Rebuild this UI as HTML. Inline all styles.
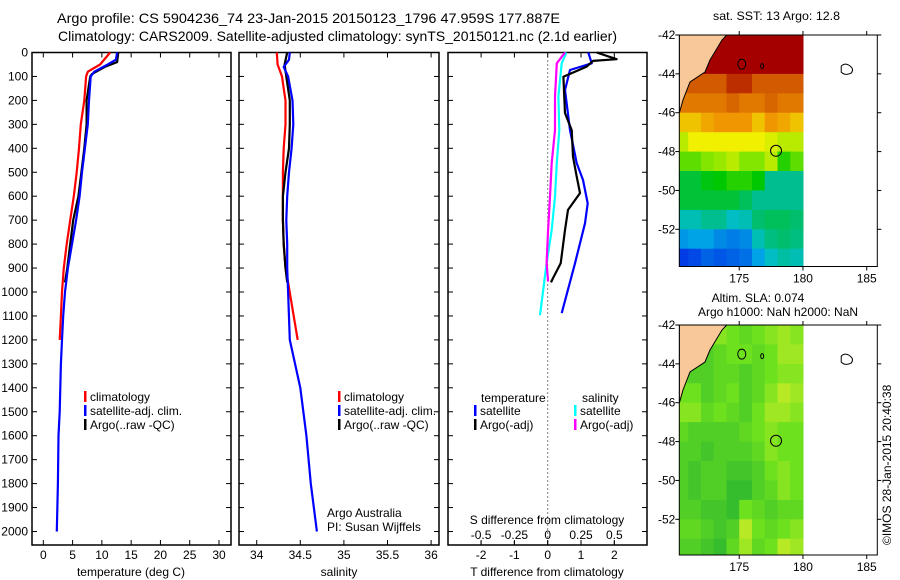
<!DOCTYPE html>
<html><head><meta charset="utf-8">
<style>
html,body{margin:0;padding:0;background:#fff;}
svg{display:block;font-family:"Liberation Sans",sans-serif;}
text{font-size:12px;fill:#000;}
</style></head>
<body>
<svg id="c" width="900" height="580" viewBox="0 0 900 580">
<text x="57" y="23" textLength="503" lengthAdjust="spacingAndGlyphs" style="font-size:14px">Argo profile: CS 5904236_74 23-Jan-2015 20150123_1796 47.959S 177.887E</text>
<text x="58" y="41" textLength="559" lengthAdjust="spacingAndGlyphs" style="font-size:14px">Climatology: CARS2009. Satellite-adjusted climatology: synTS_20150121.nc (2.1d earlier)</text>
<text x="713" y="20" textLength="127" lengthAdjust="spacingAndGlyphs">sat. SST: 13 Argo: 12.8</text>
<text x="758" y="302" text-anchor="middle">Altim. SLA: 0.074</text>
<text x="778" y="316" text-anchor="middle">Argo h1000: NaN h2000: NaN</text>
<text transform="translate(891,545) rotate(-90)">©IMOS 28-Jan-2015 20:40:38</text>
</svg>
<script>
// ---------- data ----------
const tClimDepth=[0,50,80,100,200,300,400,500,600,700,800,900,1000,1100,1200];
const tClimVal=[11.4,9.7,7.6,7.3,7.0,6.4,6.1,5.7,5.2,4.6,4.0,3.5,3.2,3.0,2.8];
const tSatDepth=[0,30,50,80,100,200,300,400,500,600,700,800,900,1000,1100,1200,1300,1400,1500,1600,1800,2000];
const tSatVal=[12.6,12.4,11.0,8.7,8.1,7.8,7.6,7.1,6.6,6.2,5.6,4.9,4.2,3.7,3.4,3.2,3.0,2.9,2.8,2.6,2.5,2.3];
const tArgoDepth=[0,40,60,90,100,200,300,400,500,600,700,800,900,960];
const tArgoVal=[12.8,12.6,10.5,8.3,8.0,7.4,7.4,7.0,6.5,6.0,5.1,4.6,4.1,3.7];
const sClimDepth=[0,50,100,150,200,300,400,500,600,700,800,900,960,1200];
const sClimVal=[34.23,34.24,34.29,34.31,34.33,34.33,34.31,34.30,34.30,34.30,34.31,34.33,34.36,34.47];
const sSatDepth=[0,30,60,100,200,300,400,500,600,700,800,900,1000,1200,1400,1600,1800,2000];
const sSatVal=[34.38,34.37,34.31,34.36,34.41,34.42,34.40,34.37,34.35,34.34,34.35,34.35,34.36,34.38,34.50,34.57,34.62,34.69];
const sArgoDepth=[0,50,100,200,300,400,500,600,700,800,900,960];
const sArgoVal=[34.35,34.32,34.34,34.38,34.38,34.37,34.33,34.30,34.30,34.31,34.33,34.35];
const dTSatDepth=[0,45,73,157,324,462,532,630,713,880,1088];
const dTSatVal=[1.22,1.32,0.67,0.52,0.67,0.87,1.06,1.20,1.12,0.82,0.42];
const dTArgoDepth=[0,28,35,59,101,253,324,435,518,587,657,741,880,942,960];
const dTArgoVal=[1.47,2.07,1.36,1.17,0.47,0.52,0.72,0.76,0.87,0.97,0.61,0.52,0.39,0.16,0.10];
const dSSatDepth=[0,45,184,324,462,602,741,880,1097];
const dSSatVal=[0.14,0.105,0.08,0.087,0.068,0.055,0.03,-0.008,-0.058];
const dSArgoDepth=[0,45,184,324,462,602,741,880,956];
const dSArgoVal=[0.13,0.068,0.055,0.055,0.03,0.017,0.003,-0.008,0.003];
const depthTicks=[0,100,200,300,400,500,600,700,800,900,1000,1100,1200,1300,1400,1500,1600,1700,1800,1900,2000];
const tTicks=[0,5,10,15,20,25,30];
const sTicks=[34,34.5,35,35.5,36];
const sTickLabels=["34","34.5","35","35.5","36"];
const dTTicks=[-2,-1,0,1,2];
const dSTicks=[-0.5,-0.25,0,0.25,0.5];
const dSTickLabels=["-0.5","-0.25","0","0.25","0.5"];
const latTicks=[-42,-44,-46,-48,-50,-52];
const lonTicks=[175,180,185];
const sstRows=[
[15,15,15,15,15,15,15,15,15,15],
[15,15,15,15,15,15,15,15,15,15],
[14,14,14,14,14.5,14.5,14,14,14,14],
[13.5,13.5,13.5,13.5,13.8,13.5,13.5,13.8,13.5,13.5],
[12.5,12.5,12.8,13,13,13,12.5,13,12.8,12.5],
[11.5,12,12,12,12,12,12,11.8,11.5,11.5],
[10.8,10.8,11,11.2,11.5,11,11,11.5,10.5,10.8],
[10,10,10.2,10.3,10.5,10.5,10.3,9.5,9.5,9.5],
[10,10,10,10,10,9.8,9.5,9.5,9.5,9.5],
[9.3,9.3,9.5,9.5,9.2,9.3,9.7,9.8,9.8,9.7],
[8.7,8.8,8.8,8.6,8.5,8.6,9.3,9.6,9.7,9.6],
[8,8.1,8.3,8.2,8.3,8.4,8.8,9.2,9.4,9.3]];
const slaRows=[
[0.5,0.4,0.4,0.6,0.5,0.4,0.5,0.6,0.7,0.6],
[0.5,0.3,0.3,0.4,0.5,0.5,0.4,0.5,0.7,0.7],
[0.4,0.3,0.3,0.4,0.4,0.3,0.4,0.5,0.6,0.6],
[0.5,0.5,0.3,0.4,0.5,0.3,0.4,0.6,0.8,0.7],
[0.6,0.6,0.4,0.5,0.4,0.3,0.5,0.7,0.7,0.6],
[0.4,0.3,0.3,0.3,0.3,0.4,0.5,0.6,0.5,0.5],
[0.3,0.3,0.2,0.3,0.3,0.3,0.4,0.6,0.5,0.5],
[0.3,0.2,0.3,0.3,0.2,0.2,0.3,0.5,0.6,0.5],
[0.3,0.2,0.3,0.3,0.1,0.1,0.3,0.4,0.6,0.5],
[0.3,0.3,0.2,0.2,0.1,0.5,0.4,0.3,0.4,0.4],
[0.4,0.4,0.3,0.2,0.3,0.8,0.5,0.4,0.5,0.6],
[0.3,0.3,0.2,0.1,0.4,0.7,0.4,0.5,0.8,0.7]];
const argoLon=[177.887], argoLat=[-47.959];

// ---------- helpers ----------
const svg=document.getElementById('c');
const NS='http://www.w3.org/2000/svg';
function mk(tag,attrs,parent){const e=document.createElementNS(NS,tag);for(const k in attrs)e.setAttribute(k,attrs[k]);(parent||svg).appendChild(e);return e;}
const top0=52.5, bot=545;
const yD=d=>top0+d*0.2395;
const xT=v=>43.3+v*5.857;
const xS=v=>256.7+(v-34)*87.2;
const xDT=v=>547.7+v*33.3;
const xDS=v=>547.7+v*133.3;
const panels=[{l:32,r:231},{l:239,r:439},{l:448,r:647}];

panels.forEach((p,i)=>{
  const g=mk('g',{});
  
  
  const r=mk('rect',{x:p.l,y:top0,width:p.r-p.l,height:bot-top0,fill:'none',stroke:'#000','stroke-width':1.5},g);
  
  
  depthTicks.forEach(d=>{
    mk('line',{x1:p.l,x2:p.l+5,y1:yD(d),y2:yD(d),stroke:'#000'},g);
    mk('line',{x1:p.r,x2:p.r-5,y1:yD(d),y2:yD(d),stroke:'#000'},g);
  });
});
depthTicks.forEach(d=>{
  const t=mk('text',{x:28,y:yD(d)+4,'text-anchor':'end'});t.textContent=d;
  
  
});
function xticks(vals,labels,fx,ly){
  vals.forEach((v,i)=>{
    const x=fx(v);
    mk('line',{x1:x,x2:x,y1:bot,y2:bot-5,stroke:'#000'});
    mk('line',{x1:x,x2:x,y1:top0,y2:top0+5,stroke:'#000'});
    if(ly){const t=mk('text',{x:x,y:ly,'text-anchor':'middle'});t.textContent=labels[i];
      
      }
  });
}
xticks(tTicks,tTicks.map(String),xT,559);
xticks(sTicks,sTickLabels,xS,559);
xticks(dTTicks,dTTicks.map(String),xDT,559);
dSTicks.forEach((v,i)=>{const x=xDS(v);mk('line',{x1:x,x2:x,y1:bot,y2:bot-4,stroke:'#000'});
  const t=mk('text',{x:x,y:539,'text-anchor':'middle'});t.textContent=dSTickLabels[i];
  
  });
mk('line',{x1:xDT(0),x2:xDT(0),y1:top0,y2:bot,stroke:'#000','stroke-dasharray':'1,3'});
function label(x,y,s,name,anchor){const t=mk('text',{x:x,y:y,'text-anchor':anchor||'middle'});t.textContent=s;
  return t;}
label(131,576,'temperature (deg C)','x-axis-title-temperature');
label(339,576,'salinity','x-axis-title-salinity');
label(547,576,'T difference from climatology','x-axis-title-t-diff');
label(547,524,'S difference from climatology','x-axis-title-s-diff');

function series(depths,vals,fx,color,name){
  const pts=depths.map((d,i)=>fx(vals[i]).toFixed(1)+','+yD(d).toFixed(1)).join(' ');
  const e=mk('polyline',{points:pts,fill:'none',stroke:color,'stroke-width':2.2,'stroke-linejoin':'round'});
  
  
}
series(tClimDepth,tClimVal,xT,'#ff0000','temp-climatology-line');
series(tArgoDepth,tArgoVal,xT,'#000000','temp-argo-line');
series(tSatDepth,tSatVal,xT,'#0000ff','temp-satellite-line');
series(sClimDepth,sClimVal,xS,'#ff0000','sal-climatology-line');
series(sArgoDepth,sArgoVal,xS,'#000000','sal-argo-line');
series(sSatDepth,sSatVal,xS,'#0000ff','sal-satellite-line');
series(dSSatDepth,dSSatVal,xDS,'#00ffff','s-diff-satellite-line');
series(dSArgoDepth,dSArgoVal,xDS,'#ff00ff','s-diff-argo-line');
series(dTSatDepth,dTSatVal,xDT,'#0000ff','t-diff-satellite-line');
series(dTArgoDepth,dTArgoVal,xDT,'#000000','t-diff-argo-line');

function legend(x,y,color,txt,name){
  mk('rect',{x:x,y:y-7,width:2.5,height:11,fill:color});
  label(x+6,y+3,txt,name,'start');
}
[[84,'p1'],[338,'p2']].forEach(([x,p])=>{
  legend(x,398,'#ff0000','climatology','legend-climatology-'+p);
  legend(x,412,'#0000ff','satellite-adj. clim.','legend-satellite-'+p);
  legend(x,426,'#000000','Argo(..raw -QC)','legend-argo-'+p);
});
label(481,402,'temperature','legend-header-temperature','start');
legend(474,412,'#0000ff','satellite','legend-t-satellite');
legend(474,426,'#000000','Argo(-adj)','legend-t-argo');
label(582,402,'salinity','legend-header-salinity','start');
legend(574,412,'#00ffff','satellite','legend-s-satellite');
legend(574,426,'#ff00ff','Argo(-adj)','legend-s-argo');
label(327,517,'Argo Australia','credit-argo-australia','start');
label(327,531,'PI: Susan Wijffels','credit-pi','start');

// ---------- maps ----------
const mapL=679.3,mapR=877.3;
const xLon=v=>mapL+(v-170.3)*12.75;
function sstColor(v){
  const stops=[[7,[0,0,140]],[8,[0,60,230]],[9,[0,190,230]],[9.7,[0,190,110]],[10.3,[0,200,0]],[11,[130,230,0]],[12,[240,240,0]],[13,[240,150,0]],[14,[210,90,0]],[15,[165,0,0]]];
  if(v<=stops[0][0])return 'rgb('+stops[0][1]+')';
  for(let i=1;i<stops.length;i++){if(v<=stops[i][0]){const a=stops[i-1],b=stops[i],f=(v-a[0])/(b[0]-a[0]);
    return 'rgb('+a[1].map((c,j)=>Math.round(c+(b[1][j]-c)*f)).join(',')+')';}}
  return 'rgb(165,0,0)';
}
function slaColor(v){
  const a=[40,180,50],m=[110,225,30],b=[232,240,40];
  let c;if(v<0.5){const f=v/0.5;c=a.map((x,j)=>Math.round(x+(m[j]-x)*f));}else{const f=(v-0.5)/0.5;c=m.map((x,j)=>Math.round(x+(b[j]-x)*f));}
  return 'rgb('+c.join(',')+')';
}
function drawMap(topY,botY,rows,colorFn,name){
  const yLat=v=>topY+(-42-v)*19.43;
  const g=mk('g',{});
  
  
  const cid='clip'+name;
  const cp=mk('clipPath',{id:cid},g);mk('rect',{x:mapL,y:topY,width:xLon(180.1)-mapL,height:botY-topY},cp);
  const cg=mk('g',{'clip-path':'url(#'+cid+')'},g);
  rows.forEach((row,r)=>row.forEach((v,c)=>{
    const x0=xLon(170+c),x1=xLon(171+c),y0=yLat(-42-r),y1=yLat(-43-r);
    const cell=mk('rect',{x:x0.toFixed(1),y:y0.toFixed(1),width:(x1-x0+0.6).toFixed(1),height:(y1-y0+0.6).toFixed(1),fill:colorFn(v)},cg);
    
    
  }));
  const land=mk('polygon',{points:[[726.7,topY],[722,topY+5],[710,topY+25],[705,topY+37],[690,topY+47],[683,topY+65],[679.3,topY+78],[679.3,topY]].map(p=>p.join(',')).join(' '),fill:'#f8c898',stroke:'#000','stroke-width':1},cg);
  
  
  mk('ellipse',{cx:xLon(175.2),cy:yLat(-43.5),rx:4,ry:5,fill:'none',stroke:'#000'},g);
  mk('ellipse',{cx:xLon(176.8),cy:yLat(-43.6),rx:1.5,ry:2.5,fill:'none',stroke:'#000'},g);
  mk('path',{d:'M'+xLon(183)+','+yLat(-43.6)+' q4,-4 9,0 q4,3 1,7 q-6,3 -10,-1 z',fill:'none',stroke:'#000'},g);
  const mk2=mk('circle',{cx:xLon(argoLon[0]),cy:yLat(argoLat[0]),r:5.5,fill:'none',stroke:'#000','stroke-width':1},g);
  
  
  mk('rect',{x:mapL,y:topY,width:mapR-mapL,height:botY-topY,fill:'none',stroke:'#000'},g);
  latTicks.forEach(v=>{const y=yLat(v);mk('line',{x1:mapL-4,x2:mapL,y1:y,y2:y,stroke:'#000'},g);
    mk('line',{x1:mapR,x2:mapR+4,y1:y,y2:y,stroke:'#000'},g);
    const t=mk('text',{x:mapL-4,y:y+4,'text-anchor':'end'},g);t.textContent=v;
    
    });
  lonTicks.forEach(v=>{const x=xLon(v);mk('line',{x1:x,x2:x,y1:botY,y2:botY+4,stroke:'#000'},g);
    mk('line',{x1:x,x2:x,y1:topY-4,y2:topY,stroke:'#000'},g);
    const t=mk('text',{x:x,y:botY+16,'text-anchor':'middle'},g);t.textContent=v;
    
    });
}
drawMap(35,266.5,sstRows,sstColor,'sst-map');
drawMap(325,555,slaRows,slaColor,'sla-map');
</script>
</body></html>
